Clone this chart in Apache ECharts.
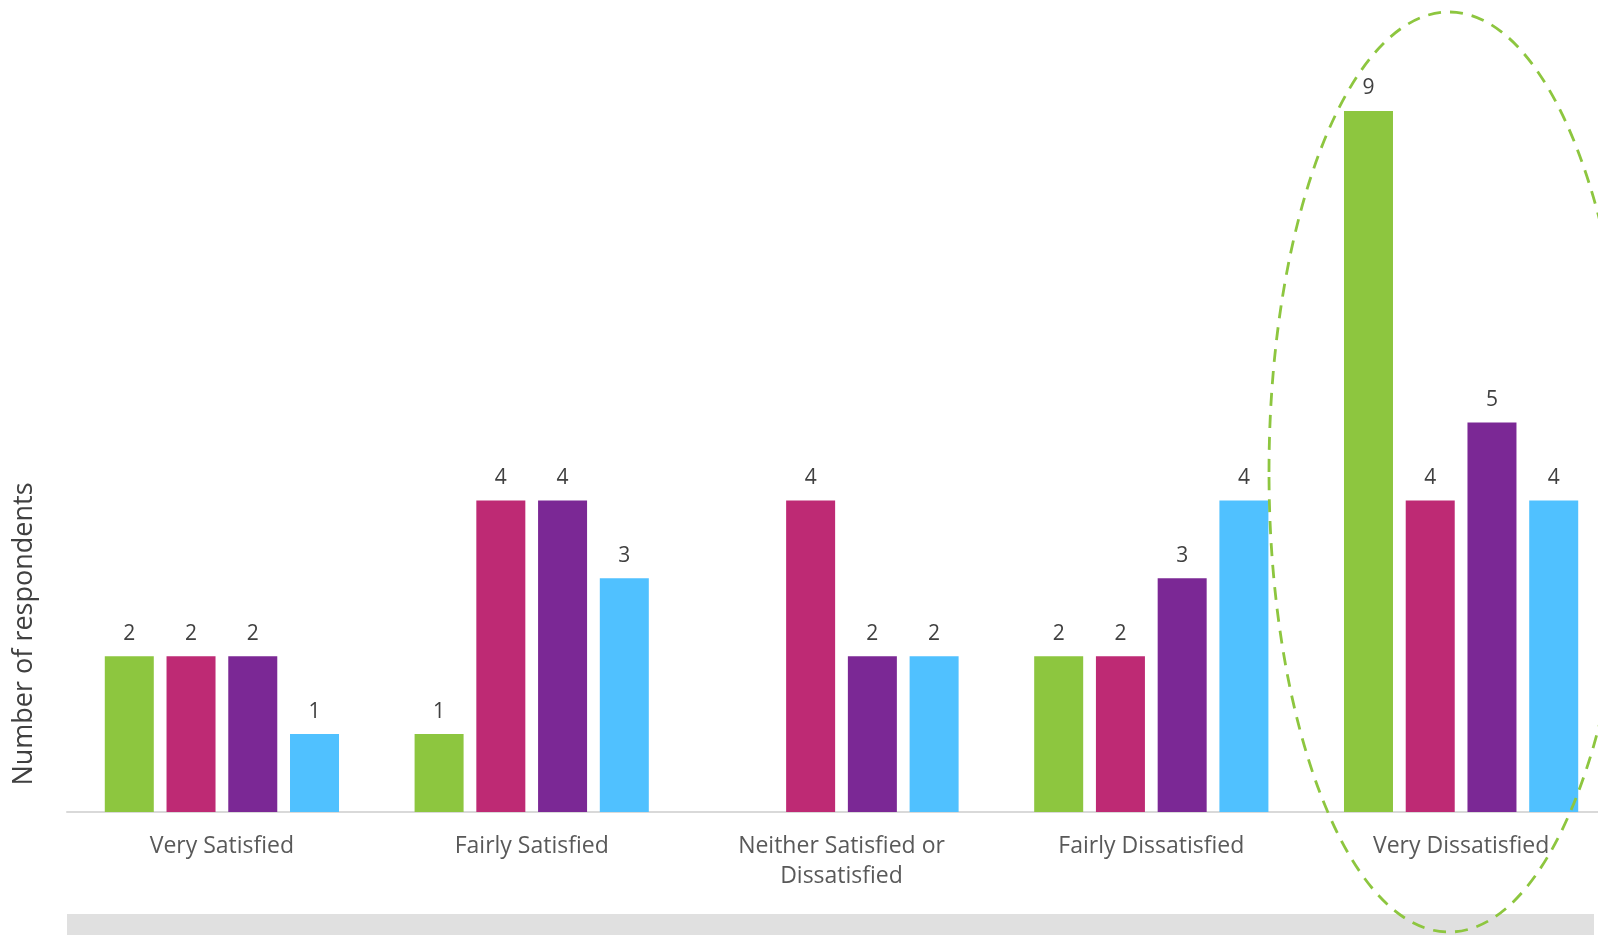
<!DOCTYPE html>
<html>
<head>
<meta charset="utf-8">
<script src="https://cdn.jsdelivr.net/npm/echarts@6/dist/echarts.min.js"></script>
<style>
html,body{margin:0;padding:0;background:#fff;overflow:hidden;}
#chart{width:1640px;height:935px;}
</style>
</head>
<body>
<div id="chart"></div>
<script>
const categories = ['Very Satisfied', 'Fairly Satisfied', 'Neither Satisfied or\nDissatisfied', 'Fairly Dissatisfied', 'Very Dissatisfied'];
const series1 = [2, 1, null, 2, 9];
const series2 = [2, 4, 4, 2, 4];
const series3 = [2, 4, 2, 3, 5];
const series4 = [1, 3, 2, 4, 4];
const seriesNames = ['Series 1', 'Series 2', 'Series 3', 'Series 4'];
const colors = ['#8DC63F', '#BE2A74', '#7B2895', '#50C1FF'];

const FONT = '"Open Sans", Lato, sans-serif';
const chart = echarts.init(document.getElementById('chart'));
const values = [series1, series2, series3, series4];

chart.setOption({
  animation: false,
  grid: { left: 67, width: 1549, top: 111, bottom: 123, containLabel: false },
  xAxis: {
    type: 'category',
    data: categories,
    axisLine: { lineStyle: { color: '#d9d9d9', width: 2 } },
    axisTick: { show: false },
    axisLabel: { color: '#595959', fontSize: 23, fontFamily: FONT, lineHeight: 30, margin: 19, interval: 0 }
  },
  yAxis: {
    type: 'value', min: 0, max: 9,
    show: false, splitLine: { show: false }
  },
  series: values.map((v, i) => ({
    name: seriesNames[i],
    type: 'bar',
    data: v,
    barWidth: 49,
    barGap: '26%',
    itemStyle: { color: colors[i] },
    label: { show: true, position: 'top', distance: 12, color: '#404040', fontSize: 21, fontFamily: FONT }
  })),
  graphic: [
    { type: 'rect', shape: { x: 67, y: 914, width: 1527, height: 21 }, style: { fill: '#e0e0e0' }, z: 0 },
    { type: 'text', x: 24, y: 634, rotation: Math.PI / 2,
      style: { text: 'Number of respondents', fill: '#404040', font: '27px ' + FONT, textAlign: 'center', textVerticalAlign: 'middle' } },
    { type: 'ellipse', shape: { cx: 1449, cy: 472, rx: 180, ry: 460 },
      style: { fill: 'none', stroke: '#8DC63F', lineWidth: 2.8, lineDash: [13, 9] }, z: 100 }
  ]
});
</script>
</body>
</html>
